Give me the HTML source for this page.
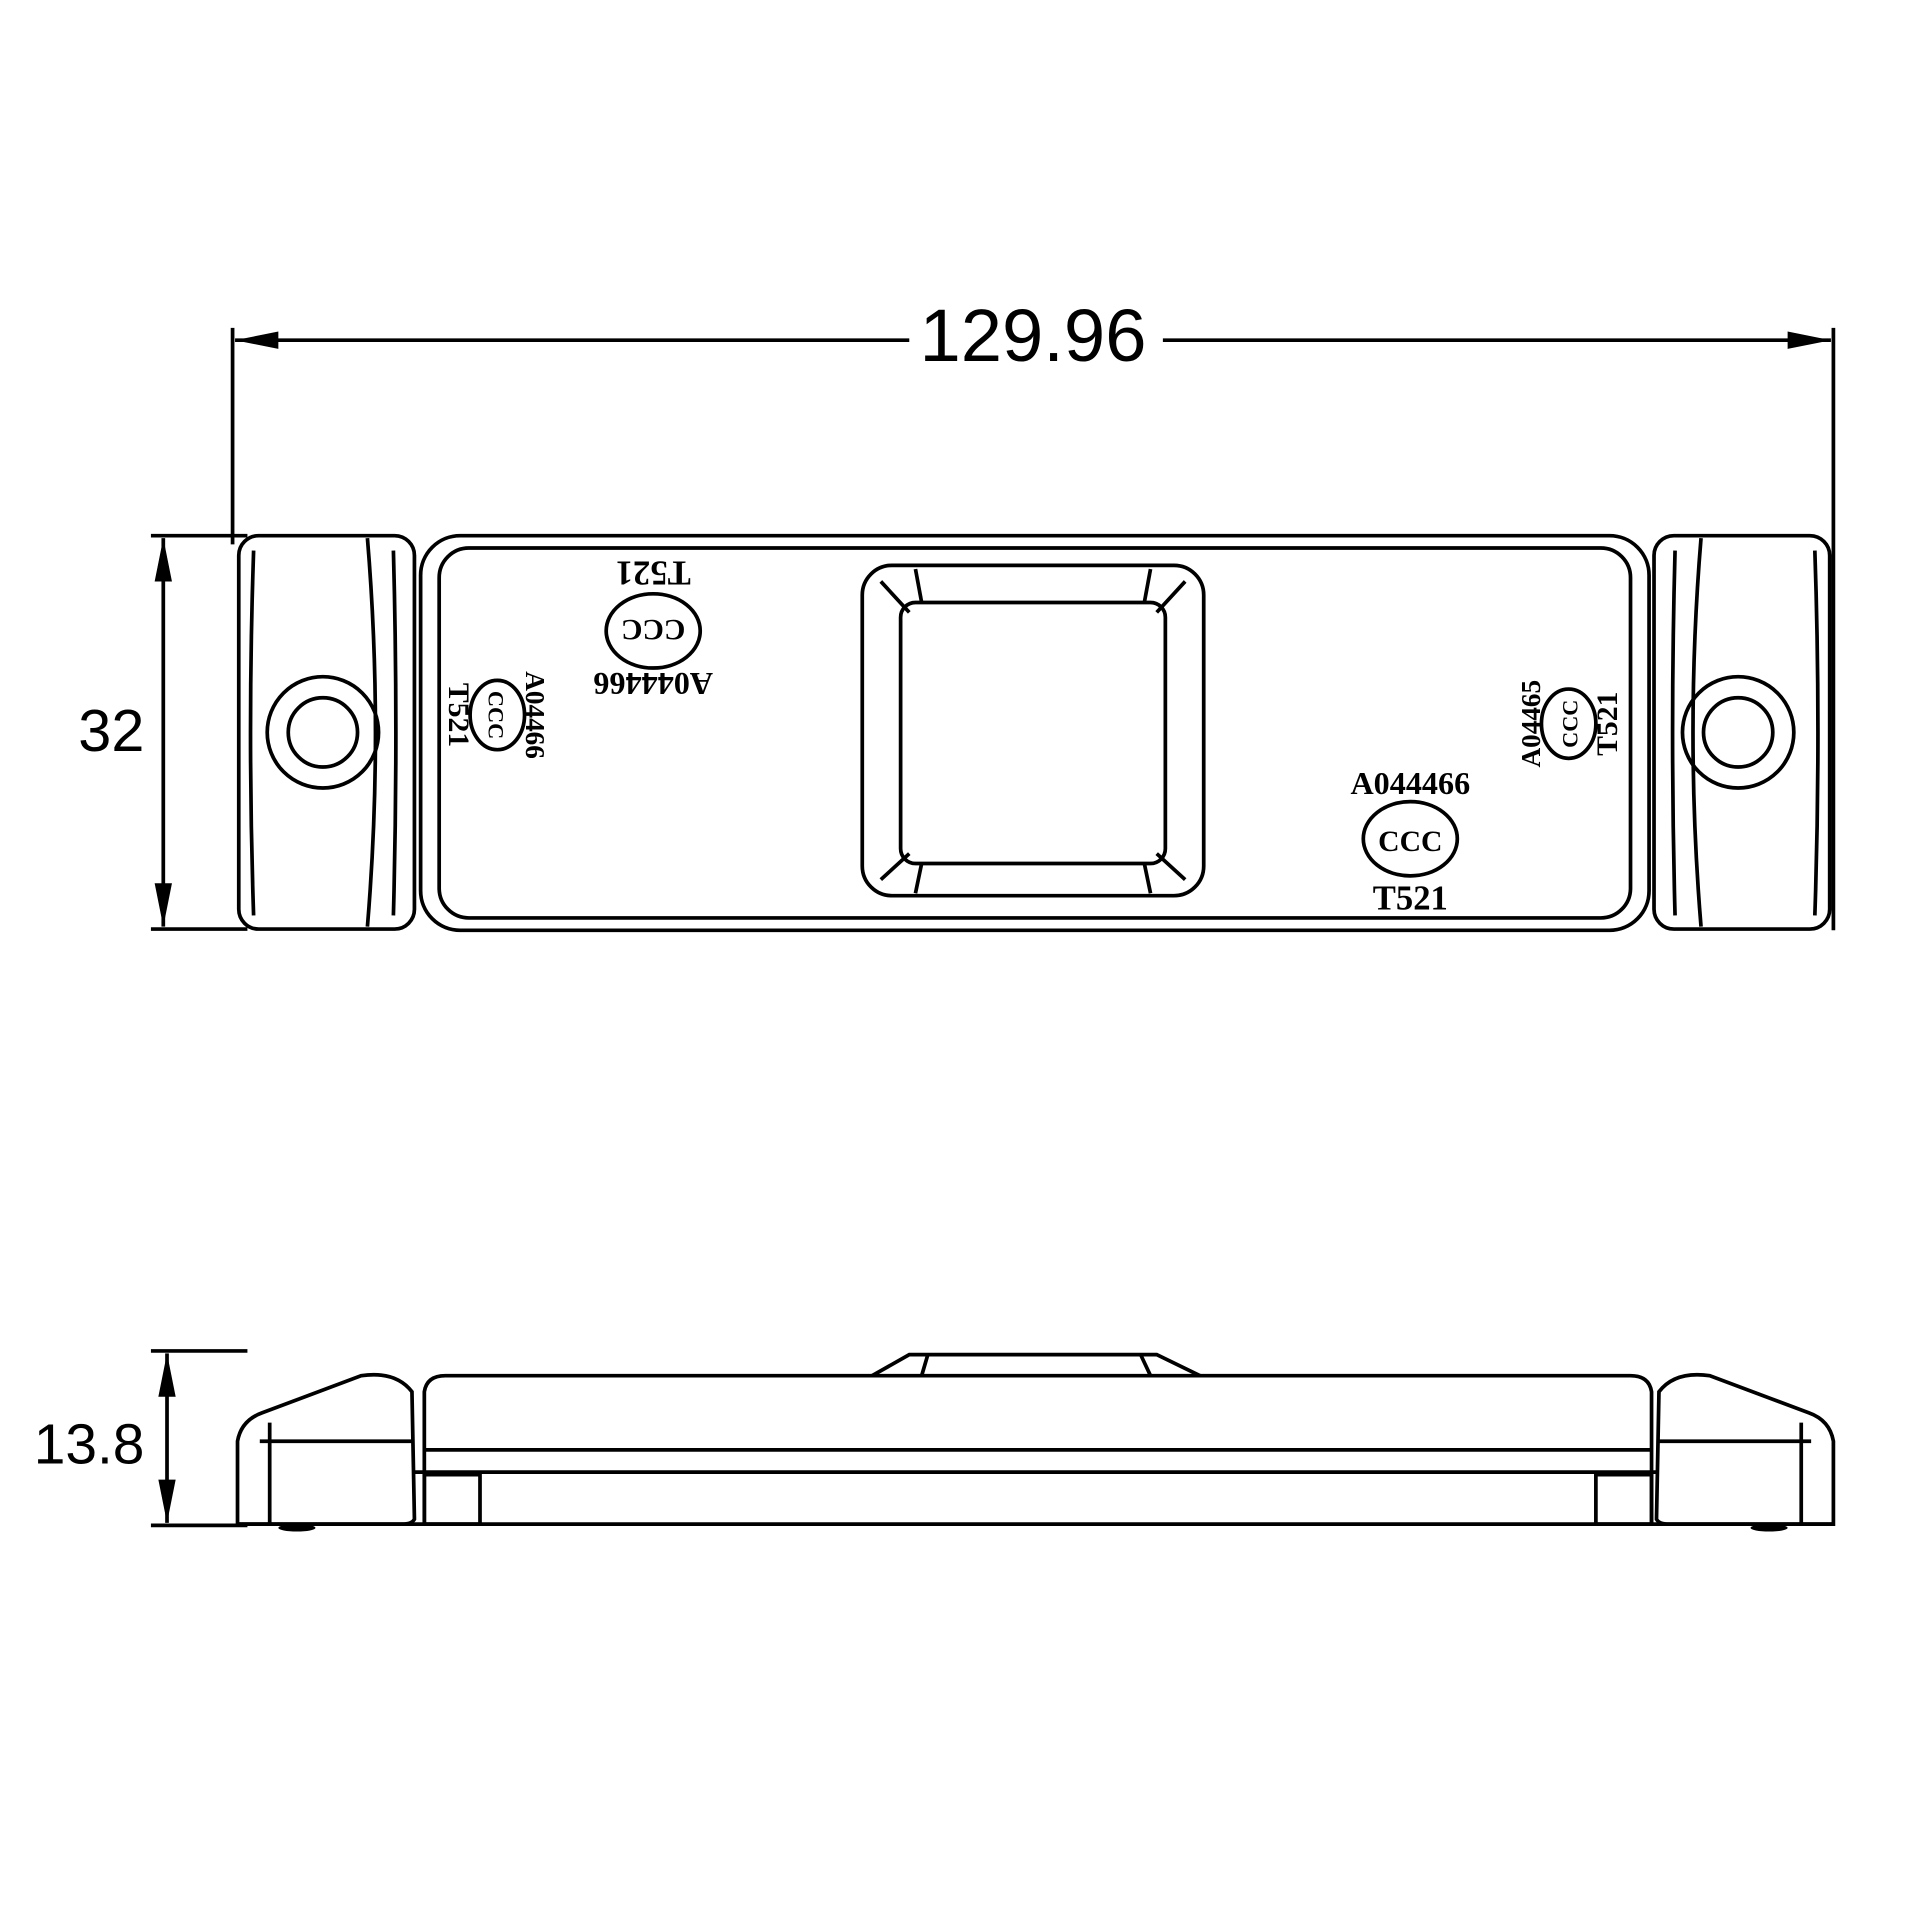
<!DOCTYPE html>
<html><head><meta charset="utf-8"><style>html,body{margin:0;padding:0;background:#fff}svg{display:block}</style></head>
<body>
<svg width="1920" height="1920" viewBox="0 0 1552 1552" xmlns="http://www.w3.org/2000/svg" font-family="Liberation Sans, sans-serif">
<g fill="none" stroke="#000" stroke-width="3">
<line x1="188" y1="265" x2="188" y2="440"/>
<line x1="1482" y1="265" x2="1482" y2="752"/>
<line x1="190" y1="275" x2="735" y2="275"/>
<line x1="940" y1="275" x2="1480" y2="275"/>
<line x1="122" y1="433" x2="200" y2="433"/>
<line x1="122" y1="751" x2="200" y2="751"/>
<line x1="132" y1="435" x2="132" y2="749"/>
<rect x="193" y="433" width="142" height="318" rx="16"/>
<path d="M205 445 Q200 592 205 740"/>
<path d="M297 435 Q310 592 297 749"/>
<path d="M318 445 Q322 592 318 740"/>
<circle cx="261" cy="592" r="45"/><circle cx="261" cy="592" r="28"/>
<rect x="1337" y="433" width="142" height="318" rx="16"/>
<path d="M1467 445 Q1472 592 1467 740"/>
<path d="M1375 435 Q1362 592 1375 749"/>
<path d="M1354 445 Q1350 592 1354 740"/>
<circle cx="1405" cy="592" r="45"/><circle cx="1405" cy="592" r="28"/>
<rect x="340" y="433" width="993" height="319" rx="32"/>
<rect x="355" y="443" width="963" height="299" rx="24"/>
<rect x="697" y="457" width="276" height="267" rx="24"/>
<rect x="728" y="487" width="214" height="211" rx="12"/>
<line x1="712" y1="470" x2="735" y2="495"/><line x1="958" y1="470" x2="935" y2="495"/>
<line x1="712" y1="711" x2="735" y2="690"/><line x1="958" y1="711" x2="935" y2="690"/>
<line x1="740" y1="460" x2="745" y2="487"/><line x1="930" y1="460" x2="925" y2="487"/>
<line x1="740" y1="722" x2="745" y2="698"/><line x1="930" y1="722" x2="925" y2="698"/>
<ellipse cx="528" cy="510" rx="38" ry="30"/>
<ellipse cx="1140" cy="678" rx="38" ry="30"/>
<ellipse cx="402" cy="578" rx="22" ry="28"/>
<ellipse cx="1268" cy="585" rx="22" ry="28"/>
<line x1="122" y1="1092" x2="200" y2="1092"/>
<line x1="122" y1="1233" x2="200" y2="1233"/>
<line x1="135" y1="1094" x2="135" y2="1231"/>
<path d="M192 1232 L192 1165 Q195 1148 212 1142 L292 1112 Q320 1108 333 1125 L335 1228 Q333 1232 325 1232 Z"/>
<path d="M218 1150 L218 1232"/><path d="M210 1165 L335 1165"/>
<path d="M1482 1232 L1482 1165 Q1479 1148 1462 1142 L1382 1112 Q1354 1108 1341 1125 L1339 1228 Q1341 1232 1349 1232 Z"/>
<path d="M1456 1150 L1456 1232"/><path d="M1464 1165 L1339 1165"/>
<path d="M343 1232 L343 1125 Q345 1112 360 1112 L1318 1112 Q1333 1112 1335 1125 L1335 1232"/>
<line x1="343" y1="1172" x2="1335" y2="1172"/>
<line x1="335" y1="1190" x2="1339" y2="1190"/>
<line x1="192" y1="1232" x2="1482" y2="1232"/>
<rect x="343" y="1192" width="45" height="40"/>
<rect x="1290" y="1192" width="45" height="40"/>
<path d="M705 1112 L735 1095 L935 1095 L970 1112"/>
<line x1="750" y1="1095" x2="745" y2="1112"/><line x1="922" y1="1095" x2="930" y2="1112"/>
</g>
<g fill="#000">
<polygon points="190,275 225,268 225,282"/>
<polygon points="1480,275 1445,268 1445,282"/>
<polygon points="132,435 125,470 139,470"/>
<polygon points="132,749 125,714 139,714"/>
<polygon points="135,1094 128,1129 142,1129"/>
<polygon points="135,1231 128,1196 142,1196"/>
<ellipse cx="240" cy="1235" rx="15" ry="3"/><ellipse cx="1430" cy="1235" rx="15" ry="3"/>
</g>
<text x="835" y="292" font-size="60" text-anchor="middle">129.96</text>
<text x="90" y="607" font-size="48" text-anchor="middle">32</text>
<text x="72" y="1183" font-size="46" text-anchor="middle">13.8</text>
<g font-family="Liberation Serif, serif" font-weight="bold">
<text x="1140" y="642" font-size="26" text-anchor="middle">A044466</text>
<text x="1140" y="735" font-size="28" text-anchor="middle">T521</text>
<text x="1140" y="688" font-size="24" text-anchor="middle">CCC</text>
<g transform="rotate(180 528 510)">
<text x="528" y="476" font-size="26" text-anchor="middle">A044466</text>
<text x="528" y="566" font-size="28" text-anchor="middle">T521</text>
<text x="528" y="519" font-size="24" text-anchor="middle">CCC</text>
</g>
<g transform="rotate(90 402 578)">
<text x="402" y="555" font-size="22" text-anchor="middle">A04466</text>
<text x="402" y="617" font-size="24" text-anchor="middle">T521</text>
<text x="402" y="585" font-size="18" text-anchor="middle">CCC</text>
</g>
<g transform="rotate(-90 1268 585)">
<text x="1268" y="562" font-size="22" text-anchor="middle">A04465</text>
<text x="1268" y="624" font-size="24" text-anchor="middle">T521</text>
<text x="1268" y="592" font-size="18" text-anchor="middle">CCC</text>
</g>
</g>
</svg>
</body></html>
